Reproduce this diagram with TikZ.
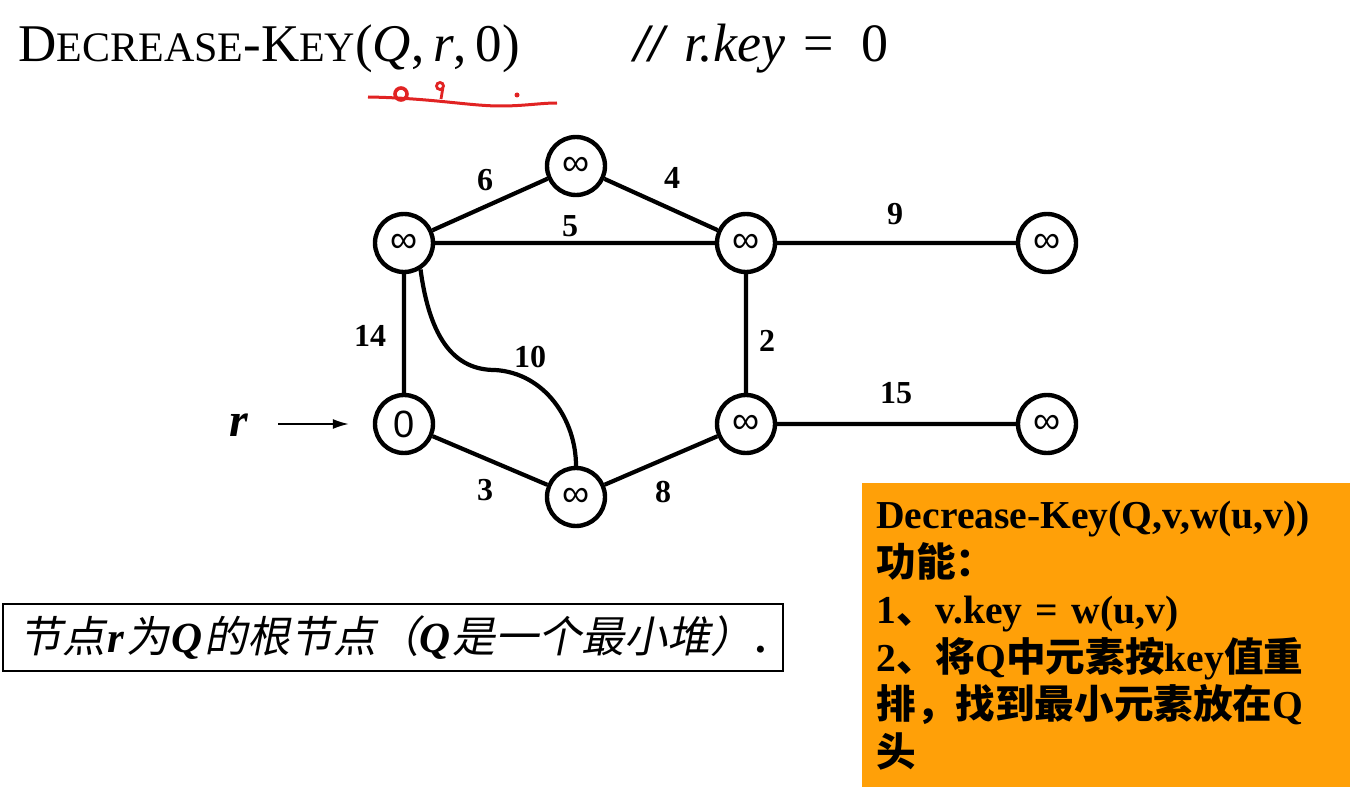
\documentclass[tikz,border=0pt]{standalone}
\usepackage{fontspec}
\setmainfont{Liberation Serif}
\newfontfamily\nodefont{Liberation Sans}
\newfontfamily\cjk{Noto Sans CJK SC}
\newfontfamily\cjkit[FakeSlant=0.2]{Noto Sans CJK SC}
\usetikzlibrary{arrows.meta}
\definecolor{keyorange}{RGB}{255,160,8}
\definecolor{penred}{RGB}{225,35,35}
\newcommand{\zh}[1]{{\cjk #1}}
\tikzset{
  vert/.style={circle,draw,line width=2.2pt,minimum size=29pt,inner sep=0pt,font=\nodefont\fontsize{19}{19}\selectfont},
  edge/.style={line width=2.1pt},
  wt/.style={font=\bfseries\fontsize{16}{16}\selectfont}
}
\begin{document}
\begin{tikzpicture}[x=0.5pt,y=-0.5pt]
\useasboundingbox (0,0) rectangle (1362,797);
% title line
\node[anchor=base west,inner sep=0pt] (title) at (18,62) {\fontsize{26.5}{26.5}\selectfont D{\fontsize{21}{21}\selectfont ECREASE}-K{\fontsize{21}{21}\selectfont EY}(\textit{Q},\,\textit{r},\,0)};
\node[anchor=base west,inner sep=0pt] (cmt) at (634,62) {\fontsize{27}{27}\selectfont\textbf{\textit{//}}\hspace{8pt}\textit{r.key}\hspace{9pt}=\hspace{14pt}0};
% pen marks under the title
\draw[penred,line width=1.5pt] (368,97) .. controls (430,98) and (470,106) .. (500,106) .. controls (525,106) and (540,103) .. (557,103);
\draw[penred,line width=1.8pt] (401,94) circle (6);
\draw[penred,line width=1.4pt] (440,86) circle (3.5) (443,87) -- (441,99);
\fill[penred] (517,95) circle (2.5);
% vertices
\foreach \name/\x/\y in {A/404/243, B/576/166, C/746/243, D/1047/243, E/576/497, F/746/424, G/1047/424} % edit here for the infinity vertices
\node[vert] (\name) at (\x,\y) {∞};
\node[vert] (R) at (404,424) {0};
% edges
\draw[edge] (A) -- (B) (B) -- (C) (A) -- (C) (C) -- (D) (C) -- (F) (F) -- (G) (A) -- (R) (R) -- (E) (E) -- (F);
\draw[edge] (A.-58) .. controls (430,340) and (455,370) .. (495,370) .. controls (545,373) and (576,420) .. (E.north);
\foreach \w/\x/\y in {6/485/180, 4/672/178, 5/570/226, 9/895/214, 14/370/336, 10/530/357, 2/767/341, 15/896/393, 3/485/490, 8/663/492} % edit here for the weights
\node[wt] (w\w) at (\x,\y) {\w};
% root pointer
\node (rlab) at (239,425) {\fontsize{24}{24}\selectfont\textbf{\textit{r}}};
\coordinate (rtail) at (278,424);
\draw[-{Latex[length=8pt,width=5pt]},line width=0.8pt,shorten >=12pt] (rtail) -- (R);
% notes
\node[draw,line width=0.8pt,anchor=north west,minimum width=390pt,minimum height=33.5pt,inner xsep=4pt] (note) at (2,603)
  {\fontsize{21.5}{21.5}\selectfont{\cjkit 节点}\hspace{1pt}\textbf{\textit{r}}\hspace{1pt}{\cjkit 为}\hspace{1pt}\textbf{\textit{Q}}\hspace{1pt}{\cjkit 的根节点（}\textbf{\textit{Q}}\hspace{1pt}{\cjkit 是一个最小堆）}\hspace{1pt}\textbf{.}};
\node[fill=keyorange,anchor=north west,text width=230pt,inner xsep=7pt,inner ysep=6pt,minimum height=152pt,align=left,font=\bfseries\fontsize{19.8}{23.75}\selectfont] (keybox) at (862,483)
  {Decrease-Key(Q,v,w(u,v))\\
   \zh{功能：}\\
   1\zh{、}v.key = w(u,v)\\
   2\zh{、将}Q\zh{中元素按}key\zh{值重}\\
   \zh{排，找到最小元素放在}Q\\
   \zh{头}};
\end{tikzpicture}
\end{document}
